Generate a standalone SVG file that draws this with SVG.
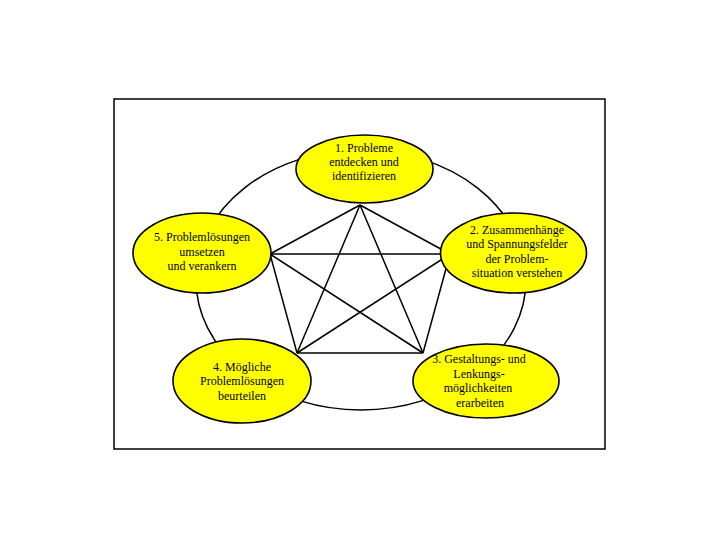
<svg xmlns="http://www.w3.org/2000/svg" width="720" height="540" viewBox="0 0 720 540">
<style>
.node{fill:#FFFF00;stroke:#000;stroke-width:1.6}
.ln{stroke:#000;stroke-width:1.5;fill:none}
.t{font-family:"Liberation Serif","Times New Roman",serif;font-size:12px;fill:#000;text-anchor:middle}
</style>
<rect x="0" y="0" width="720" height="540" fill="#fff"/>
<rect x="114" y="99" width="491" height="350" fill="none" stroke="#000" stroke-width="1.5"/>
<g id="connectors">
<ellipse class="ln" cx="361" cy="280" rx="165" ry="130"/>
<line class="ln" x1="360" y1="205" x2="270" y2="254"/>
<line class="ln" x1="360" y1="205" x2="450" y2="254"/>
<line class="ln" x1="360" y1="205" x2="297" y2="353"/>
<line class="ln" x1="360" y1="205" x2="423" y2="353"/>
<line class="ln" x1="270" y1="254" x2="450" y2="254"/>
<line class="ln" x1="270" y1="254" x2="297" y2="353"/>
<line class="ln" x1="270" y1="254" x2="423" y2="353"/>
<line class="ln" x1="450" y1="254" x2="423" y2="353"/>
<line class="ln" x1="450" y1="254" x2="297" y2="353"/>
<line class="ln" x1="297" y1="353" x2="423" y2="353"/>
</g>
<g id="node1">
<ellipse class="node" cx="364.5" cy="169" rx="68.5" ry="34"/>
<text class="t" x="364" y="152">1. Probleme</text>
<text class="t" x="364" y="166">entdecken und</text>
<text class="t" x="364" y="180">identifizieren</text>
</g>
<g id="node2">
<ellipse class="node" cx="513.5" cy="253" rx="73" ry="40"/>
<text class="t" x="517" y="234">2. Zusammenhänge</text>
<text class="t" x="517" y="248">und Spannungsfelder</text>
<text class="t" x="517" y="263">der Problem-</text>
<text class="t" x="517" y="277">situation verstehen</text>
</g>
<g id="node3">
<ellipse class="node" cx="486" cy="381" rx="73" ry="37"/>
<text class="t" x="479" y="363">3. Gestaltungs- und</text>
<text class="t" x="479" y="378">Lenkungs-</text>
<text class="t" x="478" y="392">möglichkeiten</text>
<text class="t" x="480" y="407">erarbeiten</text>
</g>
<g id="node4">
<ellipse class="node" cx="242" cy="381" rx="69" ry="42"/>
<text class="t" x="242" y="371">4. Mögliche</text>
<text class="t" x="242" y="385">Problemlösungen</text>
<text class="t" x="242" y="400">beurteilen</text>
</g>
<g id="node5">
<ellipse class="node" cx="202" cy="253" rx="69" ry="40"/>
<text class="t" x="202" y="241">5. Problemlösungen</text>
<text class="t" x="202" y="256">umsetzen</text>
<text class="t" x="202" y="270">und verankern</text>
</g>
</svg>
